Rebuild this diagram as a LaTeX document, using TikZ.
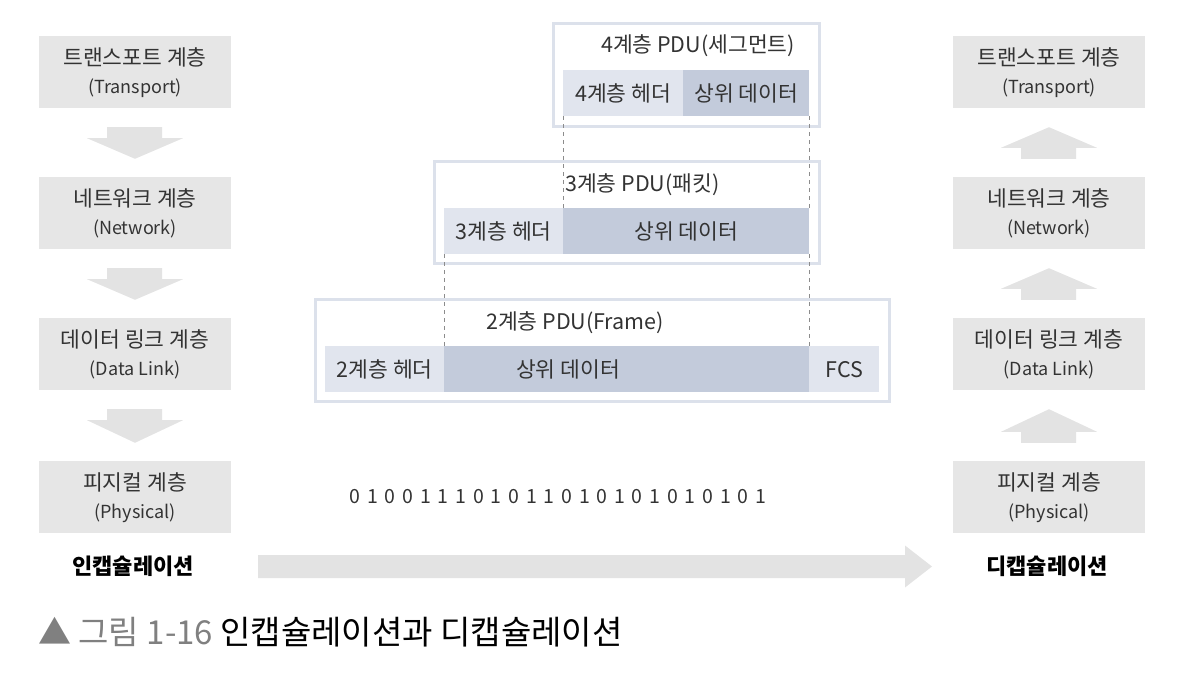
\documentclass[tikz,border=0pt]{standalone}
\usepackage{fontspec}
\setmainfont{Noto Sans CJK KR}
\usetikzlibrary{calc}
\definecolor{layerfill}{HTML}{E6E6E6}
\definecolor{arrowfill}{HTML}{E3E3E3}
\definecolor{pduline}{HTML}{DCE1EB}
\definecolor{hdrfill}{HTML}{E1E5EE}
\definecolor{datafill}{HTML}{C3CBDB}
\definecolor{txt}{HTML}{333333}
\definecolor{capgray}{HTML}{808080}
\definecolor{dashgray}{HTML}{8C8C8C}
\newcommand{\kfont}{\fontsize{21.5}{25}\selectfont}
\newcommand{\efont}{\fontsize{18}{21}\selectfont}
\begin{document}
\begin{tikzpicture}[x=1pt,y=-1pt,
  layer/.style={fill=layerfill, minimum width=192pt, minimum height=72pt, inner sep=0pt},
  ktext/.style={text=txt, font=\kfont, inner sep=0pt},
  etext/.style={text=txt, font=\efont, inner sep=0pt},
  downarrow/.style={fill=arrowfill},
  pdubox/.style={draw=pduline, line width=3pt},
  hdrcell/.style={fill=hdrfill, minimum height=46pt, inner sep=0pt, anchor=north west, text=txt, font=\kfont},
  datacell/.style={fill=datafill, minimum height=46pt, inner sep=0pt, anchor=north west, text=txt, font=\kfont},
  dashline/.style={draw=dashgray, line width=0.9pt, dash pattern=on 4pt off 4pt},
  boldlabel/.style={font=\fontsize{22}{25}\selectfont\bfseries, text=black, inner sep=0pt}
]
\useasboundingbox (0,0) rectangle (1177,679);

% ---------- left stack ----------
\foreach \nm/\cy/\k/\e in {lt/72/트랜스포트 계층/(Transport), ln/213/네트워크 계층/(Network), ld/354/데이터 링크 계층/(Data Link), lp/497/피지컬 계층/(Physical)}{
  \node[layer] (\nm) at (135,\cy) {};
  \node[ktext] (\nm k) at ($(\nm.center)+(0,-15)$) {\k};
  \node[etext] (\nm e) at ($(\nm.center)+(0,16)$) {\e};
}
% ---------- right stack ----------
\foreach \nm/\cy/\k/\e in {rt/72/트랜스포트 계층/(Transport), rn/213/네트워크 계층/(Network), rd/354/데이터 링크 계층/(Data Link), rp/497/피지컬 계층/(Physical)}{
  \node[layer] (\nm) at (1049,\cy) {};
  \node[ktext] (\nm k) at ($(\nm.center)+(0,-15)$) {\k};
  \node[etext] (\nm e) at ($(\nm.center)+(0,16)$) {\e};
}

% down arrows (left)
\foreach \a/\b in {lt/ln, ln/ld, ld/lp}{
  \fill[downarrow] ($(\a.south)+(-28,19)$) -- ($(\a.south)+(27,19)$) -- ($(\a.south)+(27,30)$)
     -- ($(\a.south)+(48,30)$) -- ($(\b.north)+(0,-18)$) -- ($(\a.south)+(-48,30)$)
     -- ($(\a.south)+(-28,30)$) -- cycle;
}
% up arrows (right)
\foreach \a/\b in {rt/rn, rn/rd, rd/rp}{
  \fill[downarrow] ($(\b.north)+(-28,-18)$) -- ($(\b.north)+(27,-18)$) -- ($(\b.north)+(27,-29)$)
     -- ($(\b.north)+(48,-29)$) -- ($(\a.south)+(0,19)$) -- ($(\b.north)+(-48,-29)$)
     -- ($(\b.north)+(-28,-29)$) -- cycle;
}

% labels
\node[boldlabel] (enc) at (133,566) {인캡슐레이션};
\node[boldlabel] (dec) at (1047,566) {디캡슐레이션};
% big arrow
\coordinate (bs) at (258,566.5);
\coordinate (bt) at (932,566.5);
\fill[arrowfill] ($(bs)+(0,-11.5)$) -- ($(bt)+(-27,-11.5)$) -- ($(bt)+(-27,-21)$) -- (bt)
   -- ($(bt)+(-27,21)$) -- ($(bt)+(-27,11.5)$) -- ($(bs)+(0,11.5)$) -- cycle;

% ---------- PDU 4 ----------
\draw[pdubox] (553,24) rectangle (819,127);
\node[ktext] (t4) at (698,46) {4계층 PDU(세그먼트)};
\node[hdrcell, minimum width=120pt] (h4) at (563,70) {4계층 헤더};
\node[datacell, minimum width=126pt] (d4) at (683,70) {상위 데이터};

% ---------- PDU 3 ----------
\draw[pdubox] (434,162) rectangle (819,263);
\node[ktext, anchor=west] (t3) at (565,185) {3계층 PDU(패킷)};
\node[hdrcell, minimum width=119pt] (h3) at (444,208) {3계층 헤더};
\node[datacell, minimum width=246pt] (d3) at (563,208) {상위 데이터};

% ---------- PDU 2 ----------
\draw[pdubox] (315,299) rectangle (889,401);
\node[ktext] (t2) at (575,323) {2계층 PDU(Frame)};
\node[hdrcell, minimum width=119pt] (h2) at (325,346) {2계층 헤더};
\node[datacell, minimum width=365pt] (d2) at (444,346) {};
\node[ktext] (d2t) at (568,369) {상위 데이터};
\node[hdrcell, minimum width=70pt] (f2) at (809,346) {FCS};

% dashed guides
\draw[dashline] (h4.south west) -- (d3.north west);
\draw[dashline] (d4.south east) -- (d3.north east);
\draw[dashline] (h3.south west) -- (d2.north west);
\draw[dashline] (d3.south east) -- (d2.north east);

% ---------- bits ----------
\foreach \b [count=\i from 0] in {0,1,0,0,1,1,1,0,1,0,1,1,0,1,0,1,0,1,0,1,0,1,0,1}{
  \node[etext, font=\fontsize{19.5}{22}\selectfont, anchor=center] (bit\i) at ({355+\i*17.65},497) {\b};
}

% ---------- caption ----------
\node[anchor=west, inner sep=0pt, font=\fontsize{33}{36}\selectfont] (cap) at (38,632)
  {\textcolor{capgray}{▲ 그림 1-16} 인캡슐레이션과 디캡슐레이션};
\end{tikzpicture}
\end{document}
